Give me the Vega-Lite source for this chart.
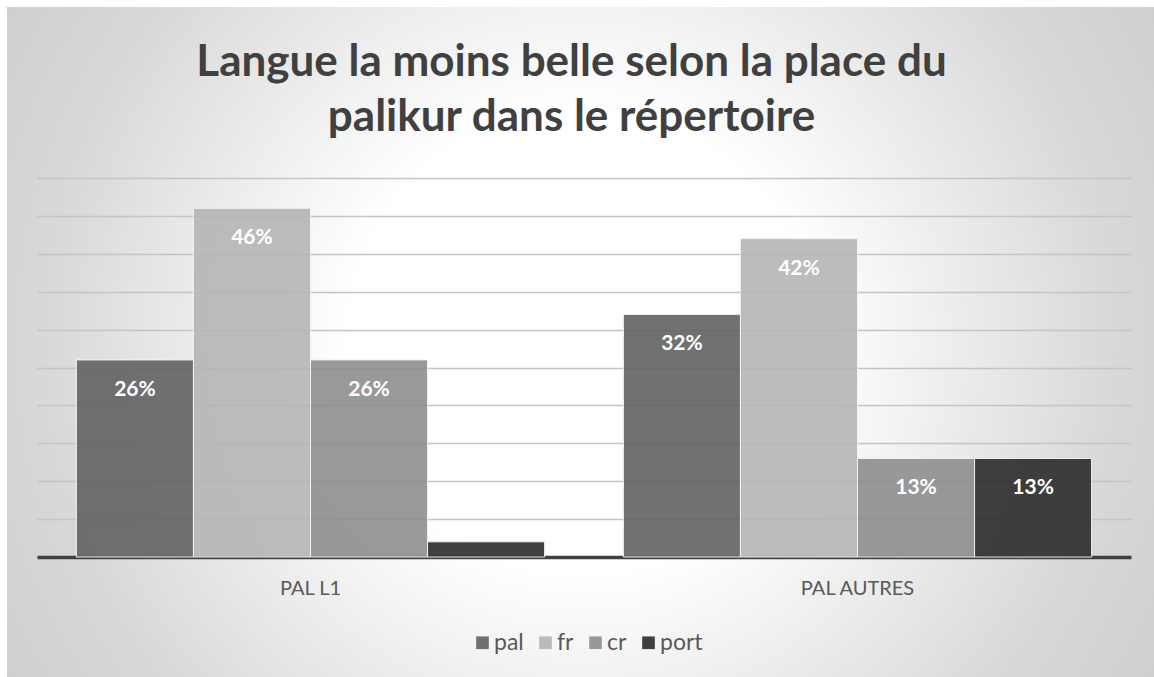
{
  "$schema": "https://vega.github.io/schema/vega-lite/v6.json",
  "width": 1147,
  "height": 670,
  "padding": {"left": 7, "top": 7, "right": 0, "bottom": 0},
  "background": "#ffffff",
  "title": {
    "text": ["Langue la moins belle selon la place du", "palikur dans le répertoire"],
    "font": "Lato",
    "fontSize": 44,
    "fontWeight": "bold",
    "color": "#404040",
    "lineHeight": 55,
    "anchor": "middle",
    "frame": "group",
    "offset": -133,
    "dx": -9
  },
  "data": {
    "values": [
      {"g": "PAL L1", "lang": "pal", "v": 0.26},
      {"g": "PAL L1", "lang": "fr", "v": 0.46},
      {"g": "PAL L1", "lang": "cr", "v": 0.26},
      {"g": "PAL L1", "lang": "port", "v": 0.02},
      {"g": "PAL AUTRES", "lang": "pal", "v": 0.32},
      {"g": "PAL AUTRES", "lang": "fr", "v": 0.42},
      {"g": "PAL AUTRES", "lang": "cr", "v": 0.13},
      {"g": "PAL AUTRES", "lang": "port", "v": 0.13}
    ]
  },
  "encoding": {
    "x": {
      "field": "g",
      "type": "nominal",
      "sort": ["PAL L1", "PAL AUTRES"],
      "scale": {"range": [30, 1124], "paddingInner": 0.144, "paddingOuter": 0.072},
      "axis": {
        "title": null,
        "orient": "bottom",
        "offset": -120,
        "labelFont": "Lato",
        "labelFontSize": 20,
        "labelColor": "#595959",
        "labelPadding": 21,
        "labelAngle": 0,
        "ticks": false,
        "domainColor": "#404040",
        "domainWidth": 3.5,
        "grid": false
      }
    },
    "xOffset": {
      "field": "lang",
      "type": "nominal",
      "sort": ["pal", "fr", "cr", "port"],
      "scale": {"paddingInner": 0, "paddingOuter": 0}
    },
    "y": {
      "field": "v",
      "type": "quantitative",
      "scale": {"domain": [0, 0.5], "range": [550, 171], "nice": false},
      "axis": {
        "title": null,
        "labels": false,
        "ticks": false,
        "domain": false,
        "grid": true,
        "gridColor": "#c4c4c4",
        "gridWidth": 1.3,
        "values": [0.05, 0.1, 0.15, 0.2, 0.25, 0.3, 0.35, 0.4, 0.45, 0.5]
      }
    }
  },
  "layer": [
    {
      "mark": {"type": "bar", "fillOpacity": 0.9, "stroke": "#f2f2f2", "strokeWidth": 1},
      "encoding": {
        "color": {
          "field": "lang",
          "type": "nominal",
          "sort": ["pal", "fr", "cr", "port"],
          "scale": {"domain": ["pal", "fr", "cr", "port"], "range": ["#626262", "#b5b5b5", "#8e8e8e", "#2b2b2b"]},
          "legend": {
            "title": null,
            "orient": "none",
            "legendX": 464,
            "legendY": 624,
            "direction": "horizontal",
            "symbolType": "square",
            "symbolSize": 160,
            "symbolStrokeWidth": 0,
            "symbolOpacity": 0.9,
            "labelFont": "Lato",
            "labelFontSize": 23,
            "labelColor": "#595959",
            "labelOffset": 0,
            "columnPadding": 10
          }
        }
      }
    },
    {
      "transform": [{"filter": "datum.v > 0.05"}],
      "mark": {"type": "text", "dy": 30, "baseline": "middle", "font": "Lato", "fontSize": 21, "fontWeight": "bold", "color": "#ffffff"},
      "encoding": {
        "text": {"field": "v", "type": "quantitative", "format": ".0%"}
      }
    }
  ],
  "config": {
    "view": {
      "stroke": null,
      "fill": {
        "gradient": "radial",
        "x1": 0.5, "y1": 0.5, "r1": 0,
        "x2": 0.5, "y2": 0.5, "r2": 0.72,
        "stops": [
          {"offset": 0, "color": "#ffffff"},
          {"offset": 0.28, "color": "#ffffff"},
          {"offset": 0.65, "color": "#d8d8d8"},
          {"offset": 1, "color": "#c4c4c4"}
        ]
      }
    }
  }
}
